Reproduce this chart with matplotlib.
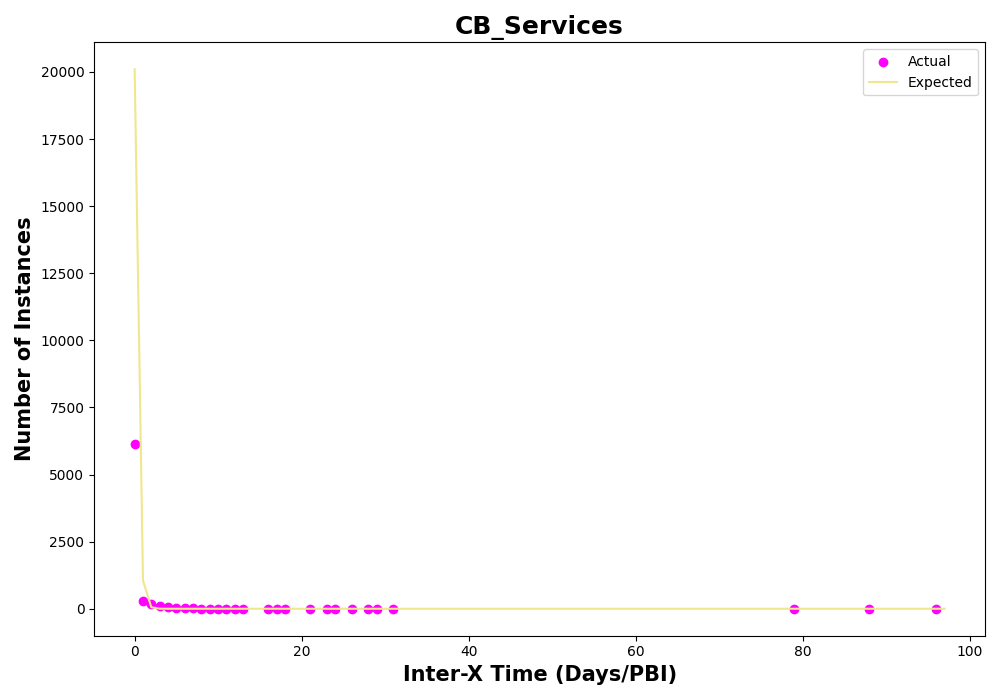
import numpy as np
import matplotlib
matplotlib.use("Agg")
import matplotlib.pyplot as plt

# --- data ---
actual_x = [0, 1, 2, 3, 4, 5, 6, 7, 8, 9, 10, 11, 12, 13,
            16, 17, 18, 21, 23, 24, 26, 28, 29, 31, 79, 88, 96]
actual_y = [6150, 300, 190, 100, 50, 10, 40, 10, 5, 5, 5, 5, 5, 5,
            3, 3, 3, 2, 2, 2, 1, 1, 1, 1, 1, 1, 1]

expected_x = list(range(98))
expected_y = [20100, 1050, 55, 3] + [0] * 94

fig, ax = plt.subplots(figsize=(10, 7), dpi=100)
ax.scatter(actual_x, actual_y, color='magenta', label='Actual', zorder=2)
ax.plot(expected_x, expected_y, color='khaki', label='Expected', zorder=3)

ax.set_title('CB_Services', fontsize=18, fontweight='bold')
ax.set_xlabel('Inter-X Time (Days/PBI)', fontsize=15, fontweight='bold')
ax.set_ylabel('Number of Instances', fontsize=15, fontweight='bold')
ax.legend(loc='upper right')

plt.tight_layout()
plt.savefig('out.png')
